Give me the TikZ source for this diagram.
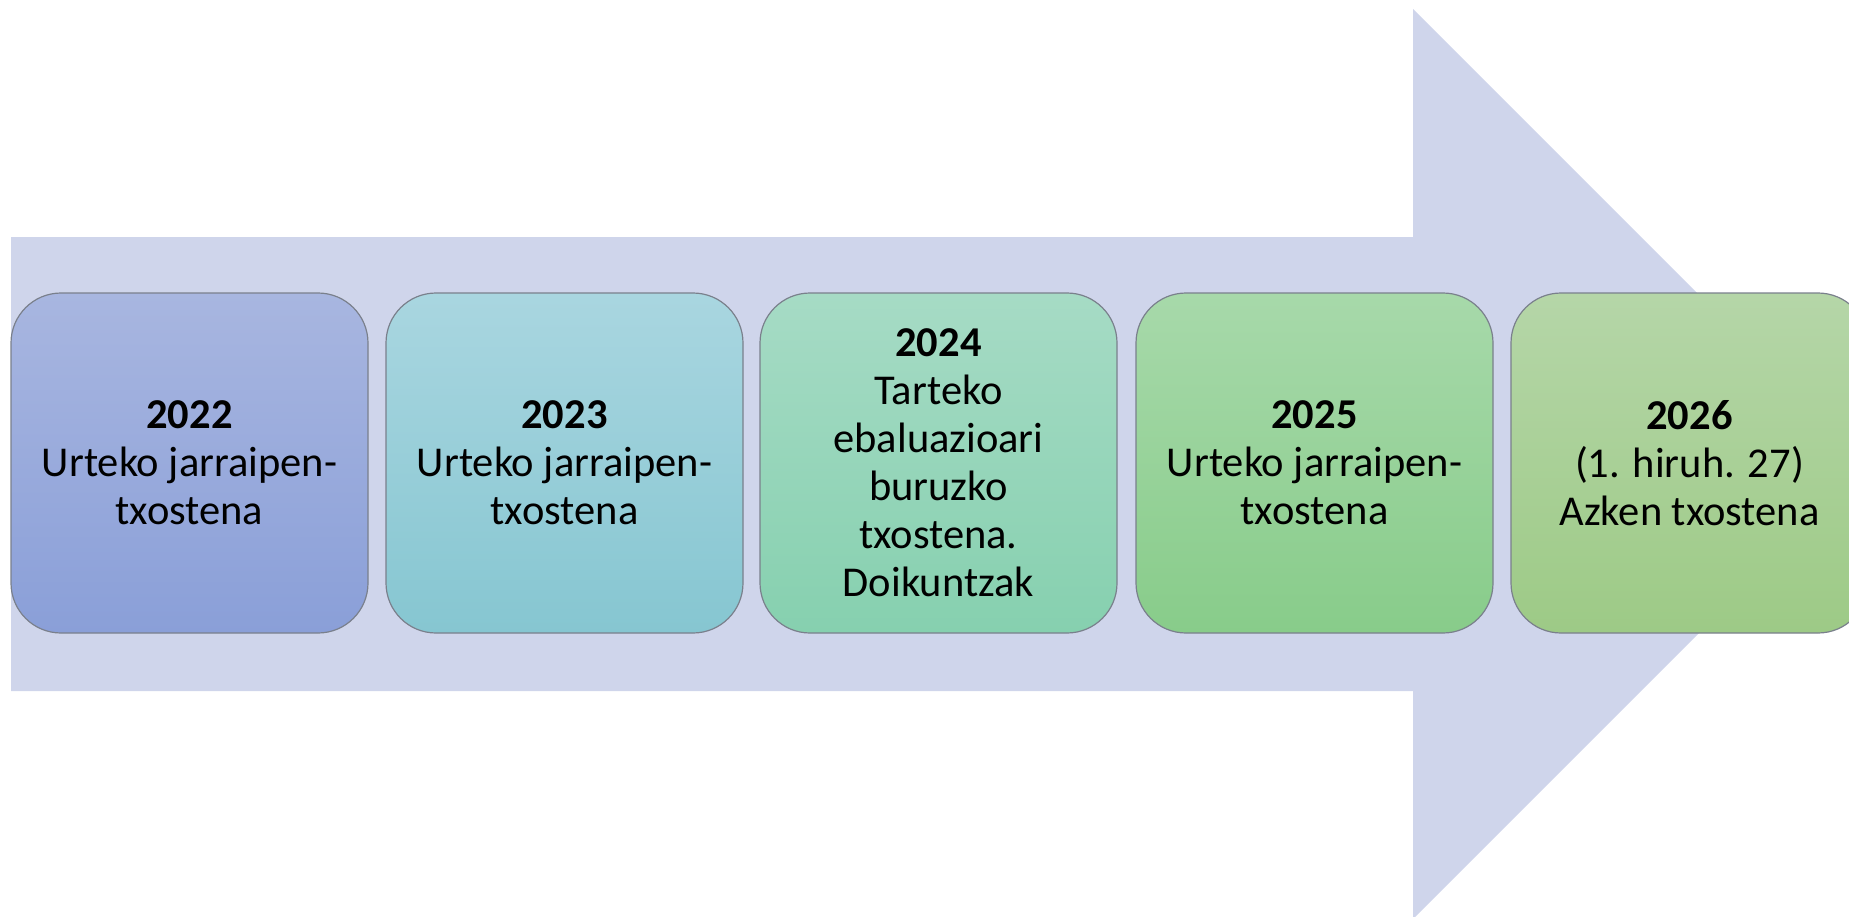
\documentclass[tikz,border=0pt]{standalone}
\usepackage{fontspec}
\setmainfont{Carlito}
\definecolor{arrowc}{HTML}{CFD5EB}
\definecolor{bordc}{HTML}{7A808C}
\definecolor{aT}{HTML}{A8B6E0}\definecolor{aB}{HTML}{8A9FD8}
\definecolor{bT}{HTML}{A9D6E0}\definecolor{bB}{HTML}{86C6D1}
\definecolor{cT}{HTML}{A6DBC5}\definecolor{cB}{HTML}{86D0AF}
\definecolor{dT}{HTML}{A7D9AA}\definecolor{dB}{HTML}{88CC8A}
\definecolor{eT}{HTML}{B5D6A8}\definecolor{eB}{HTML}{9DCA86}
\tikzset{
  yearbox/.style={draw=bordc, line width=1.2pt, rounded corners=50pt,
    minimum width=357pt, minimum height=340pt, align=center,
    font=\fontsize{42.5}{48}\selectfont, text=black, inner sep=0pt}
}
\begin{document}
\begin{tikzpicture}[x=1pt,y=-1pt]
\useasboundingbox (0,0) rectangle (1849,916);
\clip (0,0) rectangle (1849,916);
\fill[arrowc] (11,237) -- (1413,237) -- (1413,9) -- (1868,464) -- (1413,919) -- (1413,691) -- (11,691) -- cycle;
\node[yearbox, top color=aT, bottom color=aB] (b1) at (189.5,463) {\textbf{2022}\\Urteko jarraipen-\\txostena};
\node[yearbox, top color=bT, bottom color=bB] (b2) at (564.5,463) {\textbf{2023}\\Urteko jarraipen-\\txostena};
\node[yearbox, top color=cT, bottom color=cB] (b3) at (938.5,463) {\textbf{2024}\\Tarteko\\ebaluazioari\\buruzko\\txostena.\\Doikuntzak};
\node[yearbox, top color=dT, bottom color=dB] (b4) at (1314.5,463) {\textbf{2025}\\Urteko jarraipen-\\txostena};
\node[yearbox, top color=eT, bottom color=eB] (b5) at (1689.5,463) {\textbf{2026}\\(1. hiruh. 27)\\Azken txostena};
\end{tikzpicture}
\end{document}
